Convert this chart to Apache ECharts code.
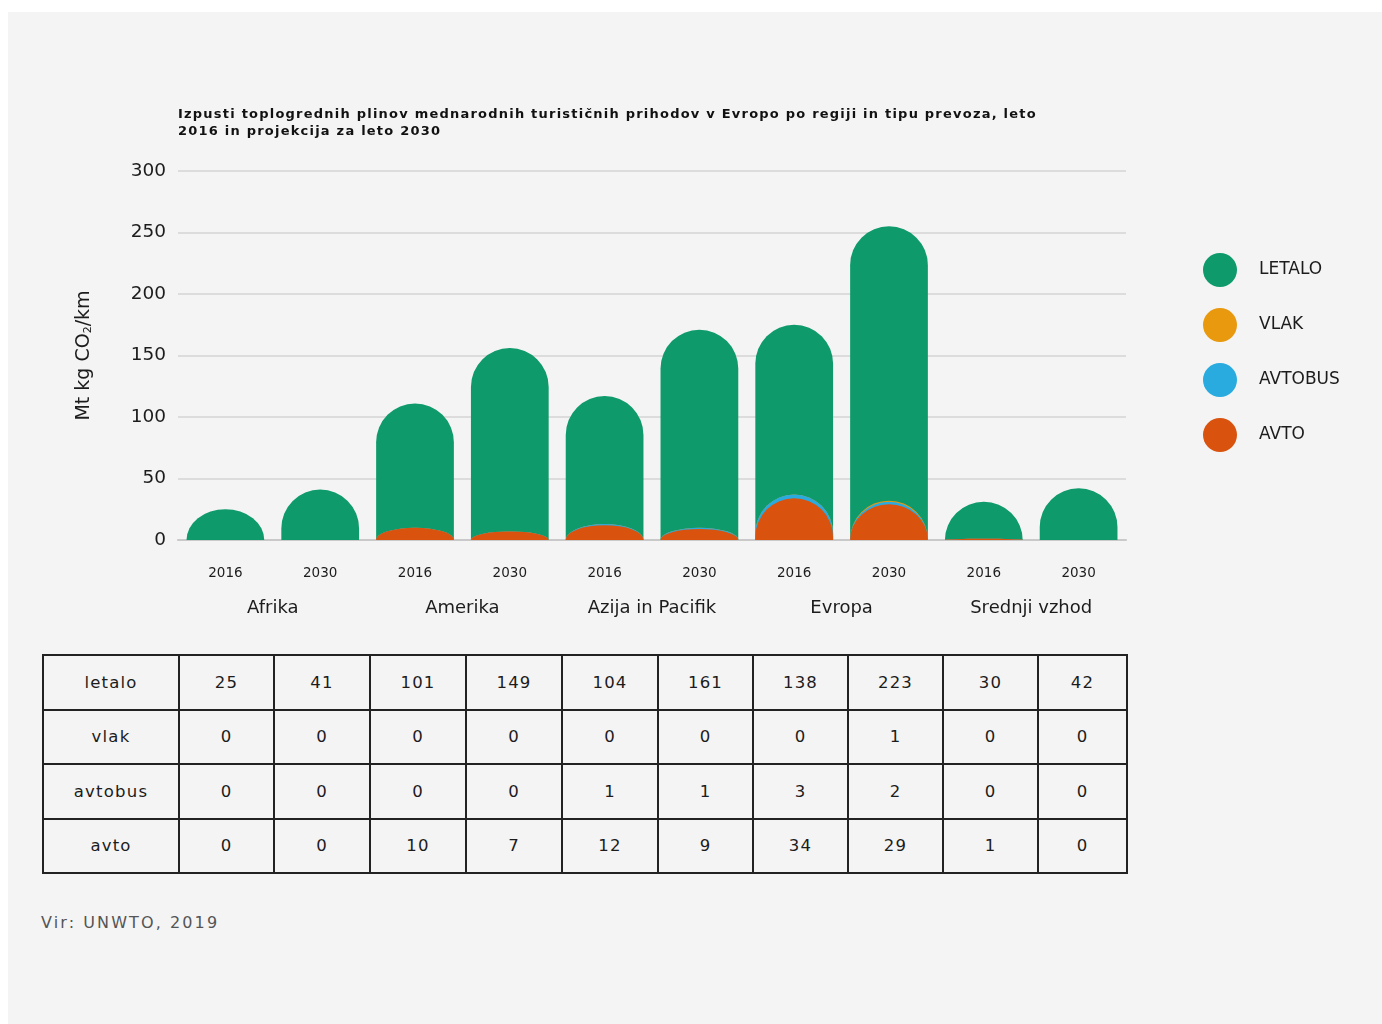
<!DOCTYPE html>
<html lang="sl">
<head>
<meta charset="utf-8">
<title>Izpusti toplogrednih plinov – turistični prihodi v Evropo</title>
<script src="https://cdn.jsdelivr.net/npm/echarts@6/dist/echarts.min.js"></script>
<style>
  html, body { margin: 0; padding: 0; background: #ffffff; }
  body { width: 1382px; height: 1024px; position: relative; overflow: hidden;
         font-family: "DejaVu Sans", sans-serif; color: #1c1c1c; }
  #panel { position: absolute; left: 8px; top: 12px; width: 1374px; height: 1012px; background: #f4f4f4; }
  #chart { position: absolute; left: 0; top: 0; width: 1382px; height: 640px; }
  #title { position: absolute; left: 178px; top: 105px; font-size: 13px; font-weight: bold;
           line-height: 17px; letter-spacing: 1.22px; color: #111; white-space: nowrap; }
  #tbl { position: absolute; left: 42px; top: 654px; border-collapse: collapse; table-layout: fixed; }
  #tbl td { border: 2px solid #222; height: 52.5px; padding: 0; text-align: center;
            font-size: 16.5px; letter-spacing: 1.2px; color: #1c1c1c; }
  #src { position: absolute; left: 41px; top: 913px; font-size: 16px; letter-spacing: 2.1px; color: #555; }
</style>
</head>
<body>
<div id="panel"></div>
<div id="chart"></div>
<div id="title">Izpusti toplogrednih plinov mednarodnih turističnih prihodov v Evropo po regiji in tipu prevoza, leto<br>2016 in projekcija za leto 2030</div>
<table id="tbl"></table>
<div id="src">Vir: UNWTO, 2019</div>
<script>
// Regions and years shown on the category axis
const regions = ['Afrika', 'Amerika', 'Azija in Pacifik', 'Evropa', 'Srednji vzhod'];
const years = ['2016', '2030', '2016', '2030', '2016', '2030', '2016', '2030', '2016', '2030'];

// Emissions by transport mode (Mt kg CO2/km), one value per region/year column
const letalo  = [25, 41, 101, 149, 104, 161, 138, 223, 30, 42];
const vlak    = [0, 0, 0, 0, 0, 0, 0, 1, 0, 0];
const avtobus = [0, 0, 0, 0, 1, 1, 3, 2, 0, 0];
const avto    = [0, 0, 10, 7, 12, 9, 34, 29, 1, 0];

const modeNames = ['letalo', 'vlak', 'avtobus', 'avto'];
const modeValues = [letalo, vlak, avtobus, avto];
const modeColors = ['#0e9a6a', '#e8990e', '#29abe0', '#d9530f'];

// y-axis ticks
const yMin = 0, yMax = 300, yStep = 50;

// Each mode is drawn as a dome rising from the baseline to the running total
// of the modes beneath it (avto at the bottom, letalo on top).
function cumulative(upto) {
  return years.map((_, i) => {
    let s = 0;
    for (let k = upto; k < modeValues.length; k++) s += modeValues[k][i];
    return s;
  });
}

function domeItem(params, api) {
  const i = api.value(0);
  const v = api.value(1);
  if (!(v > 0)) return null;
  const base = api.coord([i, 0]);
  const top = api.coord([i, v]);
  const w = api.size([1, 0])[0] * 0.82;
  const h = base[1] - top[1];
  const rx = w / 2;
  const ry = Math.min(rx, h);
  const x0 = base[0] - rx;
  const x1 = x0 + w;
  const yc = top[1] + ry;
  return {
    type: 'path',
    shape: {
      pathData: 'M' + x0 + ' ' + base[1] + ' L' + x0 + ' ' + yc +
        ' A' + rx + ' ' + ry + ' 0 0 1 ' + x1 + ' ' + yc +
        ' L' + x1 + ' ' + base[1] + ' Z'
    },
    style: { fill: api.visual('color') }
  };
}

const series = modeNames.map((name, k) => {
  const totals = cumulative(k);
  return {
    name: name.toUpperCase(),
    type: 'custom',
    xAxisIndex: 0,
    yAxisIndex: 0,
    itemStyle: { color: modeColors[k] },
    renderItem: domeItem,
    encode: { x: 0, y: 1 },
    z: 2 + k,
    data: totals.map((v, i) => [i, v])
  };
});

const font = '"DejaVu Sans", sans-serif';
const chart = echarts.init(document.getElementById('chart'), null, { renderer: 'canvas' });
chart.setOption({
  backgroundColor: 'transparent',
  animation: false,
  textStyle: { fontFamily: font, color: '#1c1c1c' },
  legend: {
    orient: 'vertical',
    left: 1203,
    top: 253,
    padding: 0,
    icon: 'circle',
    itemWidth: 34,
    itemHeight: 34,
    itemGap: 21,
    data: modeNames.map(n => n.toUpperCase()),
    textStyle: { fontFamily: font, fontSize: 17, color: '#1c1c1c', padding: [0, 0, 0, 17] }
  },
  grid: { left: 178, right: 256, top: 171, bottom: 100, containLabel: false },
  xAxis: [
    {
      type: 'category',
      data: years,
      position: 'bottom',
      axisLine: { show: true, lineStyle: { color: '#c9c9c9', width: 2 } },
      axisTick: { show: false },
      axisLabel: { margin: 26, fontSize: 13.5, color: '#1c1c1c', fontFamily: font },
      splitLine: { show: false }
    },
    {
      type: 'category',
      data: regions,
      position: 'bottom',
      gridIndex: 0,
      axisLine: { show: false },
      axisTick: { show: false },
      axisLabel: { margin: 59, fontSize: 18, color: '#1c1c1c', fontFamily: font },
      splitLine: { show: false }
    }
  ],
  yAxis: {
    type: 'value',
    min: yMin,
    max: yMax,
    interval: yStep,
    name: 'Mt kg CO{sub|2}/km',
    nameLocation: 'middle',
    nameRotate: 90,
    nameGap: 84,
    nameTextStyle: {
      fontFamily: font, fontSize: 19, color: '#1c1c1c',
      rich: { sub: { fontFamily: font, fontSize: 11, color: '#1c1c1c', verticalAlign: 'bottom', padding: [9, 0, 0, 0] } }
    },
    axisLine: { show: false },
    axisTick: { show: false },
    axisLabel: { margin: 12, fontSize: 18.5, color: '#1c1c1c', fontFamily: font },
    splitLine: { show: true, lineStyle: { color: '#dcdcdc', width: 2 } }
  },
  series: series
});

// Data table below the chart, built from the same arrays
const colWidths = [136, 95, 96, 96, 96, 96, 95, 95, 95, 95, 89];
const tbl = document.getElementById('tbl');
const cg = document.createElement('colgroup');
colWidths.forEach(w => {
  const c = document.createElement('col');
  c.style.width = w + 'px';
  cg.appendChild(c);
});
tbl.appendChild(cg);
modeNames.forEach((name, k) => {
  const tr = document.createElement('tr');
  const th = document.createElement('td');
  th.textContent = name;
  tr.appendChild(th);
  modeValues[k].forEach(v => {
    const td = document.createElement('td');
    td.textContent = String(v);
    tr.appendChild(td);
  });
  tbl.appendChild(tr);
});
</script>
</body>
</html>
